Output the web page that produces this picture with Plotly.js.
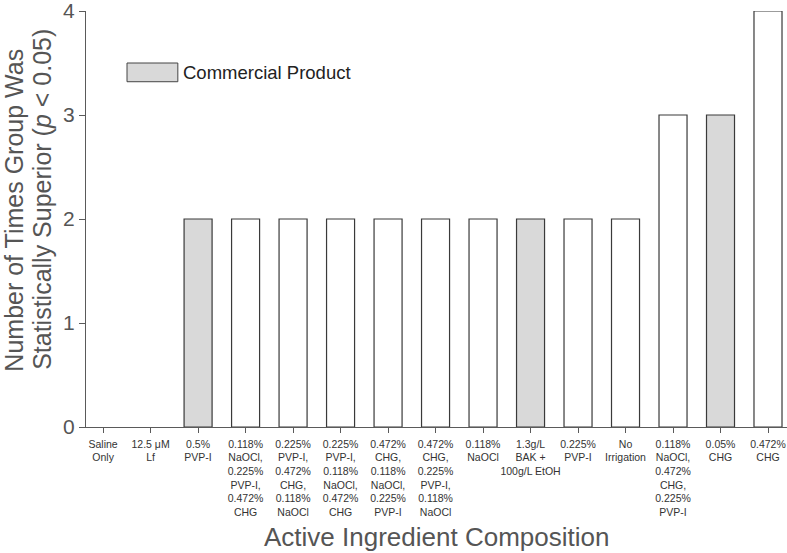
<!DOCTYPE html>
<html>
<head>
<meta charset="utf-8">
<script src="https://cdn.plot.ly/plotly-3.0.1.min.js"></script>
<style>
  body { margin: 0; background: #fff; }
  #chart { width: 787px; height: 553px; }
</style>
</head>
<body>
<div id="chart"></div>
<script>
// Groups on the x axis (line breaks as in the figure)
const groups = [
  "Saline<br>Only",
  "12.5 μM<br>Lf",
  "0.5%<br>PVP-I",
  "0.118%<br>NaOCl,<br>0.225%<br>PVP-I,<br>0.472%<br>CHG",
  "0.225%<br>PVP-I,<br>0.472%<br>CHG,<br>0.118%<br>NaOCl",
  "0.225%<br>PVP-I,<br>0.118%<br>NaOCl,<br>0.472%<br>CHG",
  "0.472%<br>CHG,<br>0.118%<br>NaOCl,<br>0.225%<br>PVP-I",
  "0.472%<br>CHG,<br>0.225%<br>PVP-I,<br>0.118%<br>NaOCl",
  "0.118%<br>NaOCl",
  "1.3g/L<br>BAK +<br>100g/L EtOH",
  "0.225%<br>PVP-I",
  "No<br>Irrigation",
  "0.118%<br>NaOCl,<br>0.472%<br>CHG,<br>0.225%<br>PVP-I",
  "0.05%<br>CHG",
  "0.472%<br>CHG"
];

// Number of times each group was statistically superior
const timesSuperior = [0, 0, 2, 2, 2, 2, 2, 2, 2, 2, 2, 2, 3, 3, 4];

// Commercial products are drawn grey
const isCommercial = [false, false, true, false, false, false, false, false, false, true, false, false, false, true, false];

const yTicks = [0, 1, 2, 3, 4];

const fillColors = isCommercial.map(c => c ? '#d9d9d9' : '#ffffff');
// a bar of height zero draws nothing in the figure
const outlineWidths = timesSuperior.map(v => v > 0 ? 1.2 : 0);

const trace = {
  type: 'bar',
  x: groups,
  y: timesSuperior,
  width: 0.59,
  marker: {
    color: fillColors,
    line: {color: '#3a3a3a', width: outlineWidths}
  },
  hoverinfo: 'x+y',
  showlegend: false
};

const axisGrey = '#5a5a5a';
const titleGrey = '#555';

const layout = {
  width: 787,
  height: 553,
  margin: {l: 86, r: 0, t: 11, b: 126},
  paper_bgcolor: '#ffffff',
  plot_bgcolor: '#ffffff',
  font: {family: 'Liberation Sans, Arial, sans-serif', color: '#333'},
  showlegend: false,
  xaxis: {
    type: 'category',
    range: [-0.36, 14.4],
    showline: true,
    linecolor: axisGrey,
    linewidth: 1,
    ticks: 'outside',
    ticklen: 5,
    tickcolor: axisGrey,
    showgrid: false,
    zeroline: false,
    tickangle: 0,
    ticklabelstandoff: 2,
    tickfont: {size: 10.5, color: '#333'},
    automargin: false
  },
  yaxis: {
    range: [0, 4],
    tickvals: yTicks,
    showline: true,
    linecolor: axisGrey,
    linewidth: 1,
    ticks: 'outside',
    ticklen: 6,
    tickcolor: axisGrey,
    showgrid: false,
    zeroline: false,
    ticklabeloverflow: 'allow',
    tickfont: {size: 21, color: titleGrey},
    automargin: false
  },
  // legend box drawn by hand, as in the figure
  shapes: [{
    type: 'rect',
    xref: 'paper', yref: 'paper',
    x0: 0.0585, x1: 0.131, y0: 0.830, y1: 0.875,
    fillcolor: '#d9d9d9',
    line: {color: '#444', width: 1}
  }],
  annotations: [
    {
      text: 'Commercial Product',
      xref: 'paper', yref: 'paper',
      x: 0.136, y: 0.8525,
      xanchor: 'left', yanchor: 'middle',
      showarrow: false,
      font: {size: 18.5, color: '#222'}
    },
    {
      text: 'Number of Times Group Was',
      xref: 'paper', yref: 'paper',
      x: -0.103, y: 0.522,
      xanchor: 'center', yanchor: 'middle',
      textangle: -90,
      showarrow: false,
      font: {size: 25, color: titleGrey}
    },
    {
      text: 'Statistically Superior (<i>p</i> < 0.05)',
      xref: 'paper', yref: 'paper',
      x: -0.063, y: 0.548,
      xanchor: 'center', yanchor: 'middle',
      textangle: -90,
      showarrow: false,
      font: {size: 25, color: titleGrey}
    },
    {
      text: 'Active Ingredient Composition',
      xref: 'paper', yref: 'paper',
      x: 0.5, y: -0.264,
      xanchor: 'center', yanchor: 'middle',
      showarrow: false,
      font: {size: 26, color: titleGrey}
    }
  ]
};

Plotly.newPlot('chart', [trace], layout, {displayModeBar: false, staticPlot: true});
</script>
</body>
</html>
